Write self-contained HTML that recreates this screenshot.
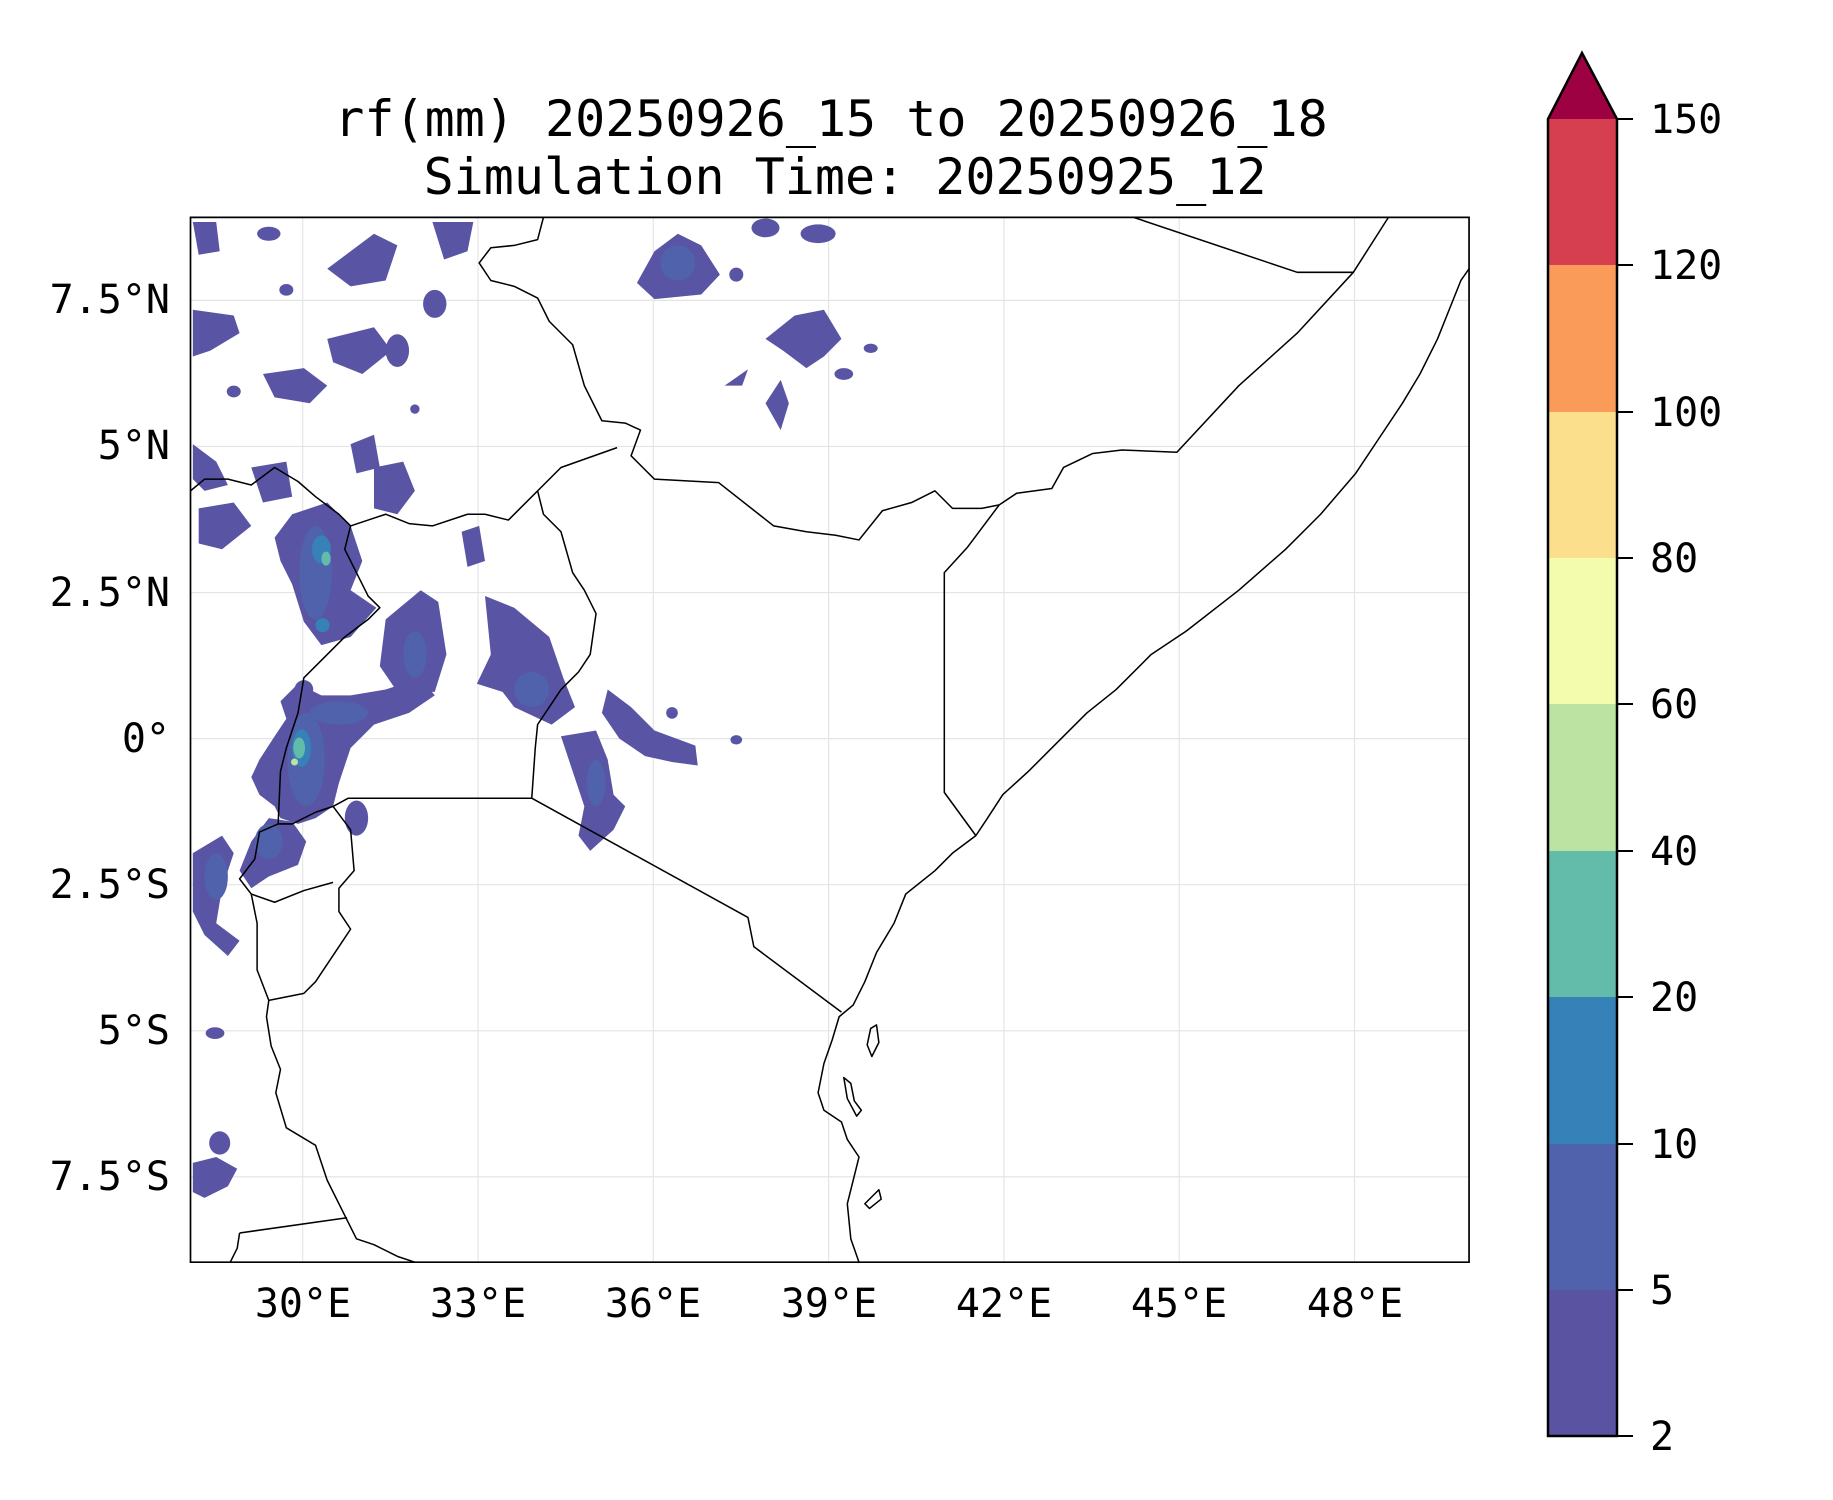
<!DOCTYPE html>
<html><head><meta charset="utf-8"><style>
html,body{margin:0;padding:0;background:#fff}
svg{display:block}
text{font-family:"DejaVu Sans Mono","Liberation Mono",monospace;fill:#000}
</style></head><body>
<svg width="1833" height="1500" viewBox="0 0 1833 1500" xmlns="http://www.w3.org/2000/svg">
<defs><clipPath id="ax"><rect x="163" y="186" width="1094" height="894"/></clipPath></defs>
<g transform="scale(1.1687)">
<g clip-path="url(#ax)">
<g stroke="#e4e4e4" stroke-width="1" vector-effect="non-scaling-stroke">
<line x1="259" y1="186" x2="259" y2="1080"/><line x1="409" y1="186" x2="409" y2="1080"/><line x1="559" y1="186" x2="559" y2="1080"/><line x1="709" y1="186" x2="709" y2="1080"/><line x1="859" y1="186" x2="859" y2="1080"/><line x1="1009" y1="186" x2="1009" y2="1080"/><line x1="1159" y1="186" x2="1159" y2="1080"/>
<line x1="163" y1="257" x2="1257" y2="257"/><line x1="163" y1="382" x2="1257" y2="382"/><line x1="163" y1="507" x2="1257" y2="507"/><line x1="163" y1="632" x2="1257" y2="632"/><line x1="163" y1="757" x2="1257" y2="757"/><line x1="163" y1="882" x2="1257" y2="882"/><line x1="163" y1="1007" x2="1257" y2="1007"/>
</g>
<g fill="#5954a4">
<polygon points="255,585 275,595 300,595 330,590 360,580 372,595 350,610 320,620 300,640 290,670 285,690 270,700 255,705 240,700 235,690 222,680 215,665 222,650 235,630 245,615 240,600"/>
<polygon points="250,440 280,430 300,450 310,480 300,505 322,520 300,545 275,552 260,532 250,500 240,480 235,460"/>
<polygon points="205,745 215,720 230,700 250,703 262,720 255,740 230,750 215,760"/>
<polygon points="165,730 190,715 200,730 190,760 185,790 205,805 195,818 175,800 165,780"/>
<polygon points="165,995 185,990 203,1000 195,1015 175,1025 165,1020"/>
<ellipse cx="188" cy="978" rx="9" ry="10"/>
<ellipse cx="184" cy="884" rx="8" ry="5"/>
<polygon points="330,530 360,505 375,515 382,560 372,592 340,592 325,570"/>
<polygon points="415,510 440,520 470,545 482,580 492,605 472,620 440,605 430,592 408,585 420,560"/>
<polygon points="480,630 510,625 520,650 525,680 535,690 525,710 505,728 495,715 500,690 490,660"/>
<polygon points="520,590 540,605 560,625 595,638 597,655 575,652 552,647 530,632 515,610"/>
<polygon points="545,242 560,215 580,200 600,210 616,235 600,252 560,256"/>
<polygon points="655,290 680,270 705,265 720,290 705,305 690,315 670,300"/>
<polygon points="655,345 668,325 675,345 668,368"/>
<polygon points="620,330 640,316 635,330"/>
<polygon points="165,265 200,270 205,285 180,300 165,305"/>
<polygon points="225,320 260,315 280,330 265,345 235,340"/>
<polygon points="280,230 320,200 340,210 330,240 300,245"/>
<polygon points="370,190 405,190 400,215 380,222"/>
<polygon points="165,190 185,190 188,215 170,218"/>
<polygon points="165,380 185,395 195,415 175,420 165,410"/>
<polygon points="320,400 345,395 355,420 340,440 320,435"/>
<polygon points="395,455 410,450 415,480 400,485"/>
<polygon points="170,435 200,430 215,450 190,470 170,465"/>
<polygon points="280,290 320,280 335,300 310,320 285,310"/>
<polygon points="300,380 320,372 325,400 305,405"/>
<polygon points="215,400 245,395 250,425 225,430"/>
<ellipse cx="245" cy="248" rx="6" ry="5"/><ellipse cx="372" cy="260" rx="10" ry="12"/><ellipse cx="340" cy="300" rx="10" ry="14"/>
<ellipse cx="655" cy="195" rx="12" ry="8"/><ellipse cx="700" cy="200" rx="15" ry="8"/><ellipse cx="630" cy="235" rx="6" ry="6"/><ellipse cx="722" cy="320" rx="8" ry="5"/><ellipse cx="745" cy="298" rx="6" ry="4"/>
<ellipse cx="630" cy="633" rx="5" ry="4"/><ellipse cx="575" cy="610" rx="5" ry="5"/><ellipse cx="260" cy="590" rx="8" ry="8"/>
<ellipse cx="230" cy="200" rx="10" ry="6"/><ellipse cx="200" cy="335" rx="6" ry="5"/><ellipse cx="355" cy="350" rx="4" ry="4"/>
<ellipse cx="435" cy="560" rx="15" ry="18"/><ellipse cx="305" cy="700" rx="10" ry="15"/>
</g>
<g fill="#4f62ab">
<ellipse cx="262" cy="650" rx="16" ry="40"/><ellipse cx="270" cy="490" rx="14" ry="40"/><ellipse cx="290" cy="610" rx="25" ry="10"/><ellipse cx="455" cy="590" rx="15" ry="15"/><ellipse cx="185" cy="750" rx="10" ry="20"/><ellipse cx="580" cy="225" rx="15" ry="15"/><ellipse cx="510" cy="670" rx="8" ry="20"/><ellipse cx="230" cy="720" rx="12" ry="15"/><ellipse cx="355" cy="560" rx="10" ry="20"/>
</g>
<g fill="#3781b9"><ellipse cx="258" cy="640" rx="8" ry="16"/><ellipse cx="275" cy="470" rx="8" ry="12"/><ellipse cx="276" cy="535" rx="6" ry="6"/></g>
<g fill="#62bca9"><ellipse cx="256" cy="640" rx="5" ry="9"/><ellipse cx="279" cy="478" rx="4" ry="6"/></g>
<g fill="#bce3a1"><ellipse cx="252" cy="652" rx="3" ry="3"/></g>
<g fill="none" stroke="#000" stroke-width="1.3" vector-effect="non-scaling-stroke" stroke-linejoin="round">
<polyline points="1257,230 1250,240 1230,290 1215,320 1200,345 1180,375 1160,405 1130,440 1100,470 1060,505 1015,540 985,560 955,590 930,610 900,640 880,660 858,680 845,700 835,715 815,730 800,745 775,765 765,790 750,815 740,840 730,860 718,870 712,890 705,910 700,935 705,950 720,960 725,975 735,990 730,1010 725,1030 728,1060 735,1080"/>
<path d="M745,880 l5,-3 2,15 -6,12 -4,-10z M722,922 l6,5 3,15 6,8 -4,5 -8,-15z M740,1030 l12,-12 2,8 -10,8z"/>
<polyline points="835,715 808,678 808,490 828,468 855,432"/>
<polyline points="855,432 870,422 900,418 910,400 935,388 960,385 1007,387 1060,330 1110,285 1158,233 1188,186"/>
<polyline points="970,186 1110,233 1158,233"/>
<polyline points="855,432 840,435 815,435 800,420 780,430 755,437 735,462 715,458 690,455 662,450 615,413 560,410 550,400 540,390 548,368 535,362 515,360 500,330 490,295 470,275 460,255 440,245 420,240 410,225 420,212 440,210 460,205 465,186"/>
<polyline points="528,383 480,400 460,420 435,445 415,440 400,440 370,450 350,448 330,440 315,445 300,450 290,440 270,425 255,412 235,400 215,415 195,410 175,410 163,420"/>
<polyline points="460,420 465,440 480,455 490,490 500,505 510,525 505,560 495,575 480,590 470,605 460,620 458,640 455,683"/>
<polyline points="455,683 640,785 645,810 720,866"/>
<polyline points="285,690 298,683 455,683"/>
<polyline points="300,450 295,470 305,490 315,510 325,520 315,530 295,545 275,565 260,580 255,610 245,640 240,660 238,705"/>
<polyline points="238,705 250,705 270,695 285,690 300,710 303,745 290,760 290,780 300,795 290,810 270,840 260,850 230,856 228,870 232,895 240,915 236,935 245,965 270,980 280,1010 295,1040 305,1060 320,1065 340,1075 355,1080"/>
<polyline points="238,705 222,712 218,735 205,752 215,765 235,772 260,762 285,755"/>
<polyline points="215,765 220,790 220,830 230,856"/>
<polyline points="205,1055 297,1042"/>
<polyline points="205,1055 203,1068 197,1080"/>
</g>
</g>
<rect x="163" y="186" width="1094" height="894" fill="none" stroke="#000" stroke-width="1.7" vector-effect="non-scaling-stroke"/>
</g>
<text x="831" y="136" font-size="50" text-anchor="middle">rf(mm) 20250926_15 to 20250926_18</text>
<text x="845" y="194" font-size="50" text-anchor="middle">Simulation Time: 20250925_12</text>
<g font-size="40" text-anchor="end">
<text x="170" y="313">7.5°N</text><text x="170" y="459">5°N</text><text x="170" y="606">2.5°N</text><text x="170" y="752">0°</text><text x="170" y="898">2.5°S</text><text x="170" y="1044">5°S</text><text x="170" y="1190">7.5°S</text>
</g>
<g font-size="40" text-anchor="middle">
<text x="303" y="1317">30°E</text><text x="478" y="1317">33°E</text><text x="653" y="1317">36°E</text><text x="829" y="1317">39°E</text><text x="1004" y="1317">42°E</text><text x="1179" y="1317">45°E</text><text x="1355" y="1317">48°E</text>
</g>
<g>
<rect x="1548" y="1290" width="69" height="146" fill="#5a53a2"/>
<rect x="1548" y="1144" width="69" height="146" fill="#4f62ab"/>
<rect x="1548" y="997" width="69" height="147" fill="#3781b9"/>
<rect x="1548" y="851" width="69" height="146" fill="#62bca9"/>
<rect x="1548" y="704" width="69" height="147" fill="#bce3a1"/>
<rect x="1548" y="558" width="69" height="146" fill="#f3fbad"/>
<rect x="1548" y="412" width="69" height="146" fill="#fcdf8c"/>
<rect x="1548" y="265" width="69" height="147" fill="#fa9b59"/>
<rect x="1548" y="119" width="69" height="146" fill="#d63f50"/>
<polygon points="1548,119 1582,53 1617,119" fill="#9e0142"/>
<polygon points="1548,1436 1548,119 1582,53 1617,119 1617,1436" fill="none" stroke="#000" stroke-width="2.5"/>
<g stroke="#000" stroke-width="2">
<line x1="1617" y1="119" x2="1633" y2="119"/><line x1="1617" y1="265" x2="1633" y2="265"/><line x1="1617" y1="412" x2="1633" y2="412"/><line x1="1617" y1="558" x2="1633" y2="558"/><line x1="1617" y1="704" x2="1633" y2="704"/><line x1="1617" y1="851" x2="1633" y2="851"/><line x1="1617" y1="997" x2="1633" y2="997"/><line x1="1617" y1="1144" x2="1633" y2="1144"/><line x1="1617" y1="1290" x2="1633" y2="1290"/><line x1="1617" y1="1436" x2="1633" y2="1436"/>
</g>
<g font-size="40">
<text x="1650" y="133">150</text><text x="1650" y="279">120</text><text x="1650" y="426">100</text><text x="1650" y="572">80</text><text x="1650" y="718">60</text><text x="1650" y="865">40</text><text x="1650" y="1011">20</text><text x="1650" y="1158">10</text><text x="1650" y="1304">5</text><text x="1650" y="1450">2</text>
</g>
</g>
</svg>
</body></html>
